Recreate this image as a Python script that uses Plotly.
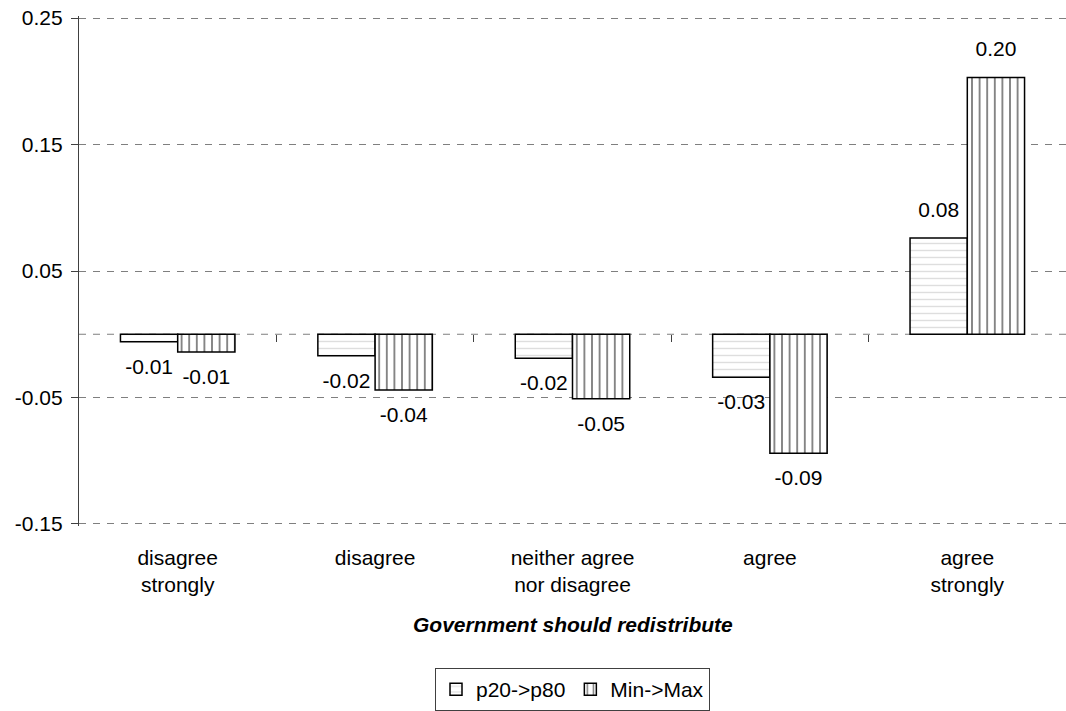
import plotly.graph_objects as go

categories = ["disagree<br>strongly", "disagree", "neither agree<br>nor disagree", "agree", "agree<br>strongly"]
p20_p80 = [-0.006, -0.017, -0.019, -0.034, 0.076]
min_max = [-0.014, -0.044, -0.051, -0.094, 0.203]
series_names = ["p20->p80", "Min->Max"]
y_ticks = [-0.15, -0.05, 0.05, 0.15, 0.25]

FONT = "Liberation Sans, Arial, sans-serif"
FS = 21

W, H = 1066, 711
PAD = 0.0016  # small range padding so the end gridlines are drawn
ML, MT, MB = 79, 16, 184
PLOT_H = H - MT - MB

fig = go.Figure()
patterns = [
    dict(shape="-", size=7, solidity=0.2, fgcolor="#bdbdbd", bgcolor="white"),
    dict(shape="|", size=7.6, solidity=0.24, fgcolor="black", bgcolor="white"),
]
for name, vals, pat in zip(series_names, [p20_p80, min_max], patterns):
    fig.add_trace(go.Bar(
        x=categories, y=vals, name=name, offsetgroup=name,
        marker=dict(color="white", line=dict(color="black", width=1.5), pattern=pat),
    ))
for name, vals in zip(series_names, [p20_p80, min_max]):
    fig.add_trace(go.Scatter(
        x=categories, y=vals, mode="markers+text", offsetgroup=name, showlegend=False,
        text=[f"{v:.2f}" for v in vals],
        textposition=["top center" if v >= 0 else "bottom center" for v in vals],
        marker=dict(size=24, opacity=0), cliponaxis=False, hoverinfo="skip",
        textfont=dict(size=FS, color="black", family=FONT),
    ))

# tick marks at category boundaries on the zero line
fig.add_trace(go.Scatter(x=[None], y=[None], xaxis="x2", showlegend=False, hoverinfo="skip"))

fig.add_hline(y=0, line=dict(color="#7f7f7f", width=1.2, dash="7px,7px"), layer="below")

y_lo, y_hi = y_ticks[0] - PAD, y_ticks[-1] + PAD
zero_frac = (0 - y_lo) / (y_hi - y_lo)

fig.update_layout(
    width=W, height=H,
    margin=dict(l=ML, r=0, t=MT, b=MB),
    paper_bgcolor="white", plot_bgcolor="white",
    font=dict(family=FONT, size=FS, color="black"),
    barmode="group", bargap=0.42, bargroupgap=0,
    scattermode="group", scattergap=0.42,
    showlegend=True,
    legend=dict(orientation="h", x=0.5, xanchor="center", y=(PLOT_H + MT - 669) / PLOT_H,
                yanchor="top", bordercolor="#404040", borderwidth=1,
                font=dict(size=FS, family=FONT), itemwidth=30, traceorder="normal"),
    xaxis=dict(type="category", showgrid=False, showline=False, ticks="",
               ticklabelstandoff=17, tickfont=dict(size=FS), zeroline=False),
    xaxis2=dict(overlaying="x", anchor="free", position=zero_frac, range=[-0.5, 4.5],
                tickvals=[0.5, 1.5, 2.5, 3.5], ticks="outside", ticklen=7, tickwidth=1,
                tickcolor="#404040", showticklabels=False, showgrid=False, showline=False,
                zeroline=False, side="bottom"),
    yaxis=dict(range=[y_lo, y_hi], tickvals=y_ticks,
               ticktext=[f"{v:.2f}" for v in y_ticks],
               showgrid=True, gridcolor="#7f7f7f", gridwidth=1.2, griddash="7px,7px",
               showline=True, linecolor="#404040", linewidth=1.2,
               ticks="outside", ticklen=7, tickcolor="#404040", ticklabelstandoff=4,
               zeroline=False, tickfont=dict(size=FS)),
    annotations=[dict(text="<b><i>Government should redistribute</i></b>", x=0.5, xref="paper",
                      y=(PLOT_H + MT - 626) / PLOT_H, yref="paper", yanchor="middle",
                      showarrow=False, font=dict(size=FS, family=FONT, color="black"))],
)

fig.write_html("out.html", config={"displayModeBar": False},
               post_script="document.body.style.margin='0px';")
